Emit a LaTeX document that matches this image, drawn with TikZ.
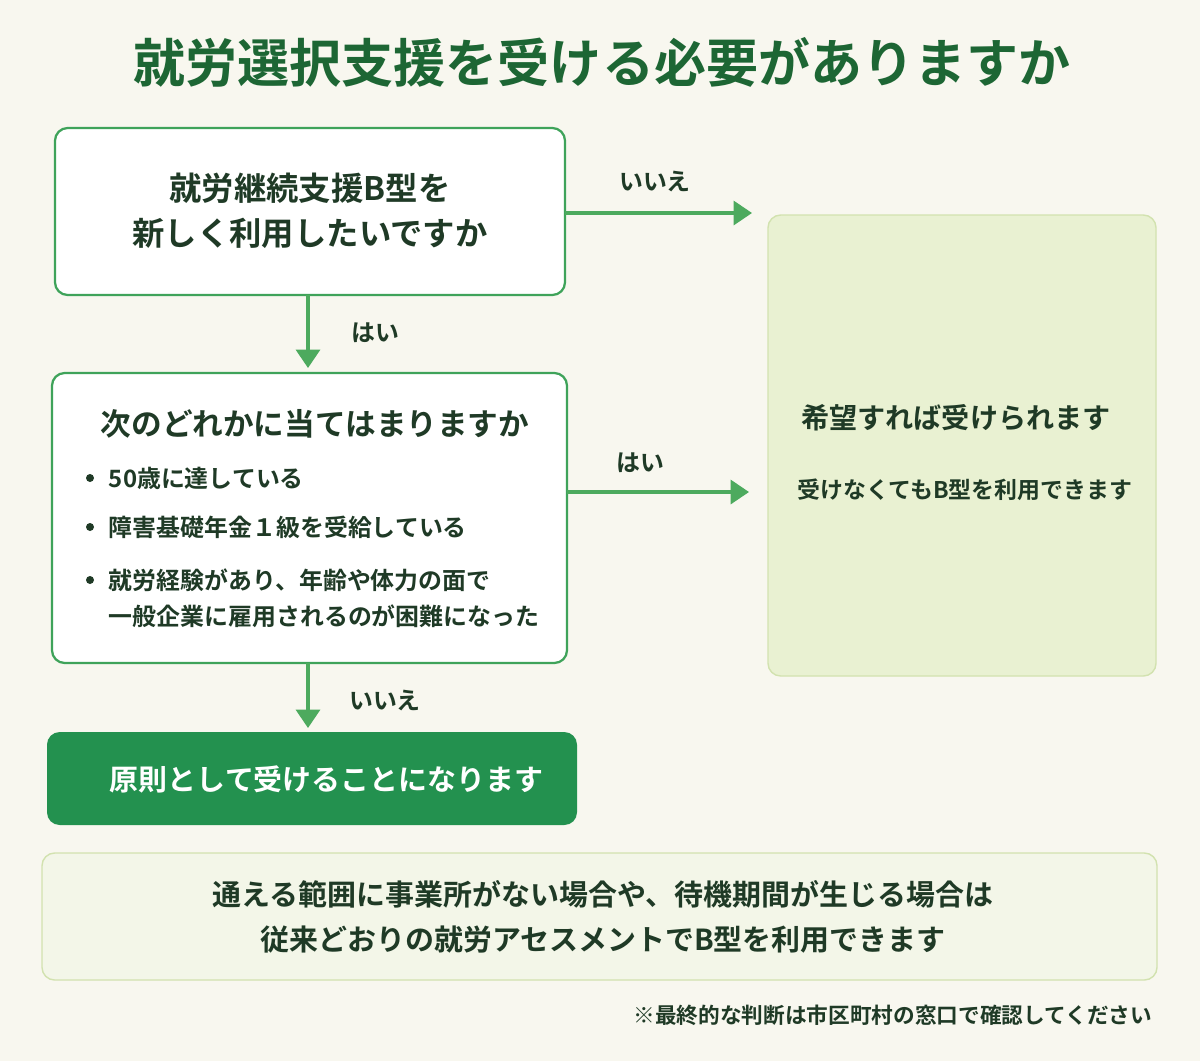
\documentclass[tikz,border=0pt]{standalone}
\usepackage{fontspec}
\setmainfont{Noto Sans CJK JP}[BoldFont={* Bold}]
\usetikzlibrary{arrows.meta}
\definecolor{bg}{HTML}{F8F7EF}
\definecolor{dg}{HTML}{1D6634}
\definecolor{gb}{HTML}{3FA35A}
\definecolor{ar}{HTML}{4DAA5E}
\definecolor{rf}{HTML}{E9F1D2}
\definecolor{rb}{HTML}{D2E2AF}
\definecolor{db}{HTML}{23914F}
\definecolor{bf}{HTML}{F3F6E8}
\definecolor{tx}{HTML}{1F3A26}
\begin{document}
\begin{tikzpicture}[x=0.025cm,y=-0.025cm,
 box/.style={draw=gb,line width=1.6pt,fill=white,rounded corners=9pt},
 arr/.style={draw=ar,line width=2.2pt,-{Triangle[length=13pt,width=17pt]}},
 lab/.style={font=\fontsize{17}{20}\selectfont\bfseries,text=tx},
 big/.style={font=\fontsize{21}{26}\selectfont\bfseries,text=tx},
 mid/.style={font=\fontsize{17}{20}\selectfont\bfseries,text=tx,anchor=west}]
\fill[bg] (0,0) rectangle (1200,1061);
\node[font=\fontsize{37}{44}\selectfont\bfseries,text=dg] (title) at (602,62) {就労選択支援を受ける必要がありますか};
\draw[box] (55,128) rectangle (565,295);
\node[big,font=\fontsize{23}{28}\selectfont\bfseries,align=center] (q1) at (310,211) {就労継続支援B型を\\[4pt]新しく利用したいですか};
\draw[box] (52,373) rectangle (567,663);
\node[big,font=\fontsize{21.8}{26}\selectfont\bfseries] (q2) at (315,424) {次のどれかに当てはまりますか};
\foreach \y/\t in {478/50歳に達している,527/障害基礎年金１級を受給している,580/就労経験があり、年齢や体力の面で}
 {\fill[tx] (90,\y) circle (4); \node[mid] at (104,\y) {\t};}
\node[mid] (b4) at (104,616) {一般企業に雇用されるのが困難になった};
\fill[draw=rb,line width=1pt,fill=rf,rounded corners=9pt] (768,215) rectangle (1156,676);
\node[big,font=\fontsize{20}{24}\selectfont\bfseries] (r1) at (956,418) {希望すれば受けられます};
\node[big,font=\fontsize{16.3}{22}\selectfont\bfseries] (r2) at (965,490) {受けなくてもB型を利用できます};
\fill[db,rounded corners=9pt] (47,732) rectangle (577,825);
\node[big,font=\fontsize{20.6}{26}\selectfont\bfseries,text=white,anchor=west] (d) at (105,779) {原則として受けることになります};
\draw[draw=rb,line width=1pt,fill=bf,rounded corners=9pt] (42,853) rectangle (1157,980);
\node[big,align=center,font=\fontsize{20.6}{24}\selectfont\bfseries] (n) at (603,917) {通える範囲に事業所がない場合や、待機期間が生じる場合は\\[8pt]従来どおりの就労アセスメントでB型を利用できます};
\node[lab,font=\fontsize{15.4}{18}\selectfont\bfseries,anchor=east] (f) at (1157,1015) {※最終的な判断は市区町村の窓口で確認してください};
\coordinate (a1s) at (565,213); \coordinate (a1e) at (752,213);
\coordinate (a2s) at (308,295); \coordinate (a2e) at (308,368);
\coordinate (a3s) at (567,492); \coordinate (a3e) at (749,492);
\coordinate (a4s) at (308,663); \coordinate (a4e) at (308,728);
\draw[arr] (a1s) -- (a1e);
\draw[arr] (a2s) -- (a2e);
\draw[arr] (a3s) -- (a3e);
\draw[arr] (a4s) -- (a4e);
\node[lab] (l1) at (655,182) {いいえ};
\node[lab] (l2) at (375,333) {はい};
\node[lab] (l3) at (640,463) {はい};
\node[lab] (l4) at (385,700) {いいえ};
\end{tikzpicture}
\end{document}
